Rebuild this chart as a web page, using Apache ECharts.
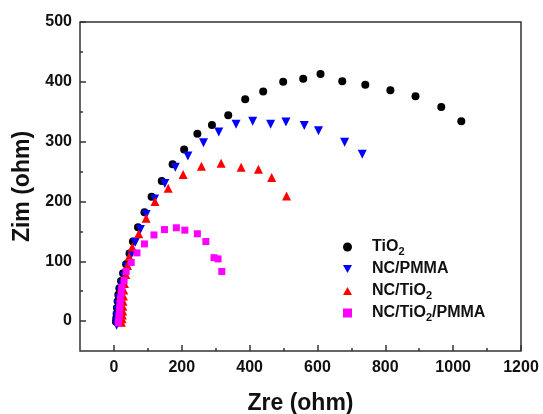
<!DOCTYPE html>
<html>
<head>
<meta charset="utf-8">
<script src="https://cdn.jsdelivr.net/npm/echarts@6/dist/echarts.min.js"></script>
<style>html,body{margin:0;padding:0;background:#fff}#c{width:543px;height:414px}</style>
</head>
<body>
<div id="c"></div>
<script>
// ---- data (Zre, Zim in ohm) ----
const seriesNames = ['TiO2', 'NC/PMMA', 'NC/TiO2', 'NC/TiO2/PMMA'];
const tio2 = [[6,-1],[7,4],[8,12],[9,22],[11,33],[13,44],[16,55],[21,67],[27,80],[36,95],[46,113],[56,133],[71,157],[90,182],[111,208],[141,234],[173,262],[207,287],[246,313],[289,328],[337,344],[387,371],[440,384],[499,400],[558,405],[609,413],[673,401],[741,395],[815,386],[889,376],[965,358],[1024,334]];
const ncPmma = [[8,-7],[8,0],[9,8],[10,18],[12,28],[15,38],[19,50],[24,62],[30,75],[38,91],[50,111],[63,132],[78,153],[95,178],[120,204],[150,230],[181,257],[218,276],[264,298],[309,316],[360,329],[409,334],[462,329],[507,333],[561,327],[603,318],[680,299],[732,279]];
const ncTio2 = [[22,-2],[24,4],[25,10],[26,17],[26,25],[27,33],[28,42],[29,52],[31,63],[35,78],[40,93],[45,108],[54,124],[73,146],[95,172],[121,200],[160,222],[204,245],[258,259],[316,264],[375,257],[426,254],[465,240],[509,209]];
const ncTio2Pmma = [[13,-3],[14,2],[15,8],[16,14],[17,21],[18,29],[19,37],[21,46],[23,56],[30,68],[36,83],[51,98],[68,114],[90,129],[118,144],[149,153],[184,156],[209,152],[246,146],[271,133],[295,106],[307,104],[318,83]];
const xMajorTicks = [0,200,400,600,800,1000,1200];
const xMinorTicks = [100,300,500,700,900,1100];
const yMajorTicks = [0,100,200,300,400,500];
const yMinorTicks = [50,150,250,350,450];
const xTitle = 'Zre (ohm)';
const yTitle = 'Zim (ohm)';

const FONT = '"Liberation Sans", Arial, sans-serif';
const chart = echarts.init(document.getElementById('c'), null, {renderer: 'canvas'});

function baseX(extra) {
  return Object.assign({
    type: 'value', min: -100, max: 1200, gridIndex: 0, position: 'bottom',
    splitLine: {show: false},
    axisLine: {show: false, onZero: false},
    axisTick: {show: false},
    axisLabel: {show: false}
  }, extra);
}
function baseY(extra) {
  return Object.assign({
    type: 'value', min: -50, max: 500, gridIndex: 0, position: 'left',
    splitLine: {show: false},
    axisLine: {show: false, onZero: false},
    axisTick: {show: false},
    axisLabel: {show: false}
  }, extra);
}
const tickStyle = {color: '#333', width: 1.5};
const labelStyle = {color: '#111', fontSize: 16, fontWeight: 'bold', fontFamily: FONT, formatter: v => String(v)};

const option = {
  animation: false,
  backgroundColor: '#fff',
  grid: {left: 80, right: 22, top: 22, bottom: 63, containLabel: false, outerBoundsMode: 'none',
         show: true, borderColor: '#333', borderWidth: 1.5, backgroundColor: 'transparent'},
  xAxis: [
    baseX({
      axisTick: {show: true, inside: true, length: 6, customValues: xMajorTicks, lineStyle: tickStyle},
      axisLabel: Object.assign({show: true, customValues: xMajorTicks, margin: 9}, labelStyle),
      name: xTitle, nameLocation: 'middle', nameGap: 41,
      nameTextStyle: {fontSize: 23, fontWeight: 'bold', color: '#111', fontFamily: FONT}
    }),
    baseX({
      axisTick: {show: true, inside: true, length: 3, customValues: xMinorTicks, lineStyle: tickStyle}
    })
  ],
  yAxis: [
    baseY({
      axisTick: {show: true, inside: true, length: 6, customValues: yMajorTicks, lineStyle: tickStyle},
      axisLabel: Object.assign({show: true, customValues: yMajorTicks, margin: 8}, labelStyle),
      name: yTitle, nameLocation: 'middle', nameGap: 46,
      nameTextStyle: {fontSize: 23, fontWeight: 'bold', color: '#111', fontFamily: FONT}
    }),
    baseY({
      axisTick: {show: true, inside: true, length: 3, customValues: yMinorTicks, lineStyle: tickStyle}
    })
  ],
  legend: {
    orient: 'vertical',
    left: 343, top: 237,
    padding: 0,
    itemWidth: 9, itemHeight: 9, itemGap: 2,
    data: [
      {name: seriesNames[0], icon: 'circle'},
      {name: seriesNames[1], icon: 'path://M0,0L10,0L5,9Z'},
      {name: seriesNames[2], icon: 'path://M5,0L10,9L0,9Z'},
      {name: seriesNames[3], icon: 'rect'}
    ],
    formatter: function (name) { return name.replace(/2/g, '{s|2}'); },
    textStyle: {
      fontSize: 16, fontWeight: 'bold', color: '#111', fontFamily: FONT, lineHeight: 20,
      padding: [0, 0, 0, 15],
      rich: {s: {fontSize: 11, fontWeight: 'bold', color: '#111', fontFamily: FONT, verticalAlign: 'bottom', lineHeight: 20, padding: [6, 0, 0, 0]}}
    }
  },
  series: [
    {name: seriesNames[0], type: 'scatter', data: tio2, symbol: 'circle', symbolSize: 8, itemStyle: {color: '#000000', opacity: 1}},
    {name: seriesNames[1], type: 'scatter', data: ncPmma, symbol: 'triangle', symbolRotate: 180, symbolSize: 9, itemStyle: {color: '#0000ff', opacity: 1}},
    {name: seriesNames[2], type: 'scatter', data: ncTio2, symbol: 'triangle', symbolSize: 9, itemStyle: {color: '#ff0000', opacity: 1}},
    {name: seriesNames[3], type: 'scatter', data: ncTio2Pmma, symbol: 'rect', symbolSize: 7, itemStyle: {color: '#ff00ff', opacity: 1}}
  ]
};
chart.setOption(option);
</script>
</body>
</html>
